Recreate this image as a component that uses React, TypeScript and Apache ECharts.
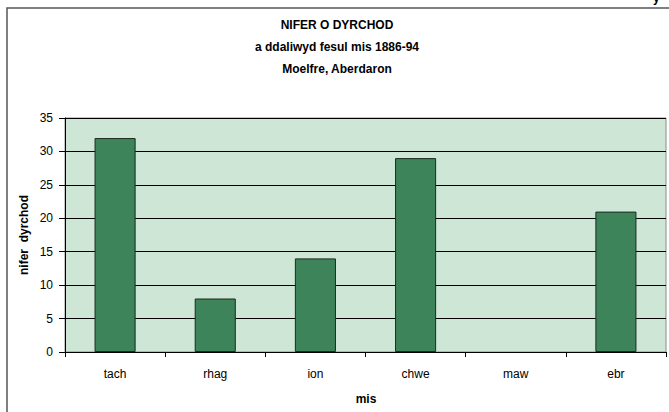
import React, { useEffect, useRef } from "react";
import * as echarts from "echarts";

const titleLines = ["NIFER O DYRCHOD", "a ddaliwyd fesul mis 1886-94", "Moelfre, Aberdaron"];
const categories = ["tach", "rhag", "ion", "chwe", "maw", "ebr"];
const values = [32, 8, 14, 29, 0, 21];
const yAxisName = "nifer  dyrchod";
const xAxisName = "mis";

export default function App() {
  const ref = useRef<HTMLDivElement>(null);
  useEffect(() => {
    const chart = echarts.init(ref.current!, null, { renderer: "svg" });
    const font = "Liberation Sans, Arial, sans-serif";
    chart.setOption({
      animation: false,
      backgroundColor: "#ffffff",
      graphic: [
        {
          type: "rect",
          shape: { x: 7, y: 8, width: 720, height: 500 },
          style: { fill: "none", stroke: "#555555", lineWidth: 1.5 },
          silent: true,
          z: -1,
        },
        {
          type: "text",
          x: 653,
          y: -8,
          style: { text: "y", font: "bold 12px " + font, fill: "#000" },
        },
        ...titleLines.map((t, i) => ({
          type: "text",
          x: 337,
          y: 25 + i * 22,
          style: {
            text: t,
            font: "bold 12px " + font,
            fill: "#000",
            textAlign: "center",
            textVerticalAlign: "middle",
          },
        })),
        {
          type: "text",
          x: 24,
          y: 235,
          rotation: Math.PI / 2,
          style: {
            text: yAxisName,
            font: "bold 12px " + font,
            fill: "#000",
            textAlign: "center",
            textVerticalAlign: "middle",
          },
        },
        {
          type: "text",
          x: 366,
          y: 399,
          style: {
            text: xAxisName,
            font: "bold 12px " + font,
            fill: "#000",
            textAlign: "center",
            textVerticalAlign: "middle",
          },
        },
      ],
      grid: {
        left: 65,
        top: 118,
        right: 3,
        bottom: 60,
        show: true,
        backgroundColor: "#CDE6D5",
        borderColor: "#8a8a8a",
        borderWidth: 1,
      },
      xAxis: {
        type: "category",
        data: categories,
        axisLine: { lineStyle: { color: "#000", width: 1 } },
        axisTick: { show: true, length: 5, lineStyle: { color: "#000" } },
        axisLabel: { color: "#000", fontSize: 12, fontFamily: font, margin: 16 },
      },
      yAxis: {
        type: "value",
        min: 0,
        max: 35,
        interval: 5,
        axisLine: { show: true, lineStyle: { color: "#000", width: 1 } },
        axisTick: { show: true, length: 6, lineStyle: { color: "#000" } },
        axisLabel: { color: "#000", fontSize: 12, fontFamily: font, margin: 12 },
        splitLine: { show: true, lineStyle: { color: "#000", width: 1 } },
      },
      series: [
        {
          type: "bar",
          data: values.map((v) =>
            v === 0 ? { value: v, itemStyle: { borderWidth: 0, opacity: 0 } } : v
          ),
          barWidth: "41%",
          itemStyle: { color: "#3E845A", borderColor: "#1c2a1e", borderWidth: 1 },
        },
      ],
    });
    return () => chart.dispose();
  }, []);
  return (
    <div
      ref={ref}
      style={{ position: "fixed", left: 0, top: 0, width: 669, height: 412 }}
    />
  );
}
